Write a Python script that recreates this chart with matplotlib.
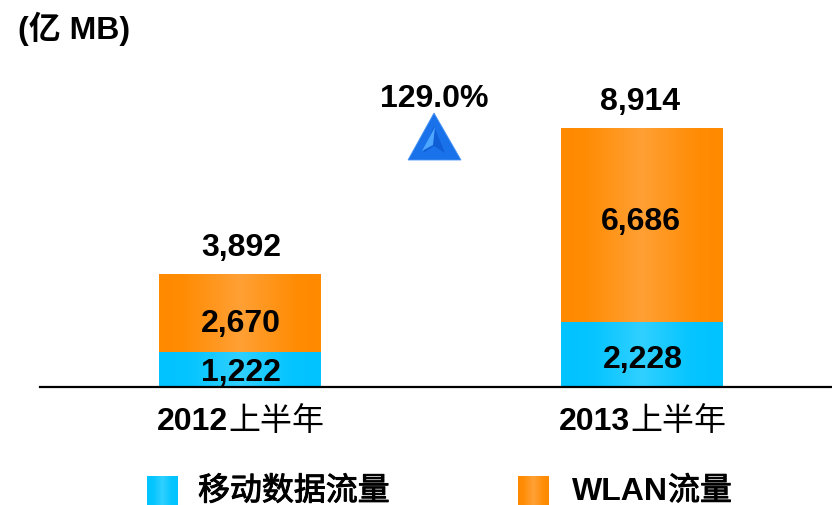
import numpy as np
import matplotlib
matplotlib.use("Agg")
import matplotlib.pyplot as plt
import matplotlib.patheffects as pe
from matplotlib.colors import LinearSegmentedColormap
from matplotlib.patches import Polygon, Rectangle
from matplotlib.transforms import Affine2D

periods = ["2012", "2013"]
period_suffix = "上半年"
mobile = [1222, 2228]
wlan = [2670, 6686]
totals = [3892, 8914]
growth_label = "129.0%"
unit_label = "(亿 MB)"
series_names = ["移动数据流量", "WLAN流量"]

W, H = 832, 505
fig = plt.figure(figsize=(W / 100, H / 100), dpi=100)
FONT = ["Liberation Sans", "Noto Sans CJK SC"]
plt.rcParams["font.family"] = FONT

px = Affine2D().scale(1, -1).translate(0, H)  # pixel coords, y down

ax = fig.add_axes([40 / W, (H - 387) / H, (832 - 40) / W, 387 / H])
scale = 258.5 / 8914
ax.axis("off")
ax.plot([0, 1], [0, 0], transform=ax.transAxes, color="black", lw=1.6, clip_on=False, zorder=6)

cm_blue = LinearSegmentedColormap.from_list(
    "b", [(0, "#00c3ff"), (0.2, "#06c5ff"), (0.5, "#30d0ff"), (0.8, "#06c5ff"), (1, "#00c3ff")])
cm_orange = LinearSegmentedColormap.from_list(
    "o", [(0, "#ff8a00"), (0.15, "#ff8c04"), (0.5, "#ffa035"), (0.85, "#ff8c04"), (1, "#ff8a00")])
grad = np.linspace(0, 1, 128).reshape(1, -1)

x = np.arange(len(periods))
WIDTH = 162 / 402
b1 = ax.bar(x, mobile, WIDTH, color="#00c3ff")
b2 = ax.bar(x, wlan, WIDTH, bottom=mobile, color="#ff8a00")
for bars, cm in ((b1, cm_blue), (b2, cm_orange)):
    for r in bars:
        ax.imshow(grad, cmap=cm, aspect="auto", zorder=3,
                  extent=[r.get_x(), r.get_x() + r.get_width(), r.get_y(), r.get_y() + r.get_height()])
ax.set_xlim((40 - 240) / 402, (832 - 240) / 402)
ax.set_ylim(0, 387 / scale)


def label(i, y, value, dx, dy):
    ax.annotate(f"{value:,}", (i, y), xytext=(dx * 0.72, dy * 0.72), textcoords="offset points",
                ha="center", va="center", fontsize=23, fontweight="bold", color="black", zorder=5)


mobile_off = [(1, -4), (1, -5)]
wlan_off = [(1, -11), (-1, 3)]
total_off = [(1, 26), (-2, 27)]
for i in x:
    label(i, mobile[i] / 2, mobile[i], *mobile_off[i])
    label(i, mobile[i] + wlan[i] / 2, wlan[i], *wlan_off[i])
    label(i, totals[i], totals[i], *total_off[i])


def t(xp, yp, s, weight="bold", ha="left", size=23, stroke=0):
    txt = fig.text(xp, yp, s, transform=px, ha=ha, va="center", fontsize=size,
                   fontweight=weight, color="black")
    if stroke:
        txt.set_path_effects([pe.withStroke(linewidth=stroke, foreground="black")])
    return txt


t(18, 29, unit_label, size=23)
t(434, 99, growth_label, ha="center")
for cx, p in zip((157, 559), periods):
    t(cx, 422, p)
    t(cx + 71, 422, period_suffix, weight="normal")


def swatch(x0, y0, x1, y1, cm):
    n = x1 - x0
    for k in range(n):
        fig.add_artist(Rectangle((x0 + k, y0), 1.2 if k < n - 1 else 1, y1 - y0, transform=px,
                                 facecolor=cm(k / (n - 1)), edgecolor="none"))


swatch(147, 476, 178, 505, cm_blue)
swatch(518, 476, 549, 505, cm_orange)
t(198, 492, series_names[0], weight="normal", stroke=0.7)
t(572, 492, series_names[1][:4])
t(668, 492, series_names[1][4:], weight="normal", stroke=0.7)

# up arrow triangle
fig.add_artist(Polygon([(434, 113), (461, 160), (408, 160)], closed=True, transform=px,
                       facecolor="#1a72ea", edgecolor="#4a95f5", lw=0.6))
fig.add_artist(Polygon([(434, 126), (445, 153), (434, 146), (423, 153)], closed=True, transform=px,
                       facecolor="#0f5ed6", edgecolor="none"))
fig.add_artist(Polygon([(435, 127), (433, 145), (422, 151)], closed=True, transform=px,
                       facecolor="#4da6ff", edgecolor="none"))

fig.savefig("out.png", dpi=100)
